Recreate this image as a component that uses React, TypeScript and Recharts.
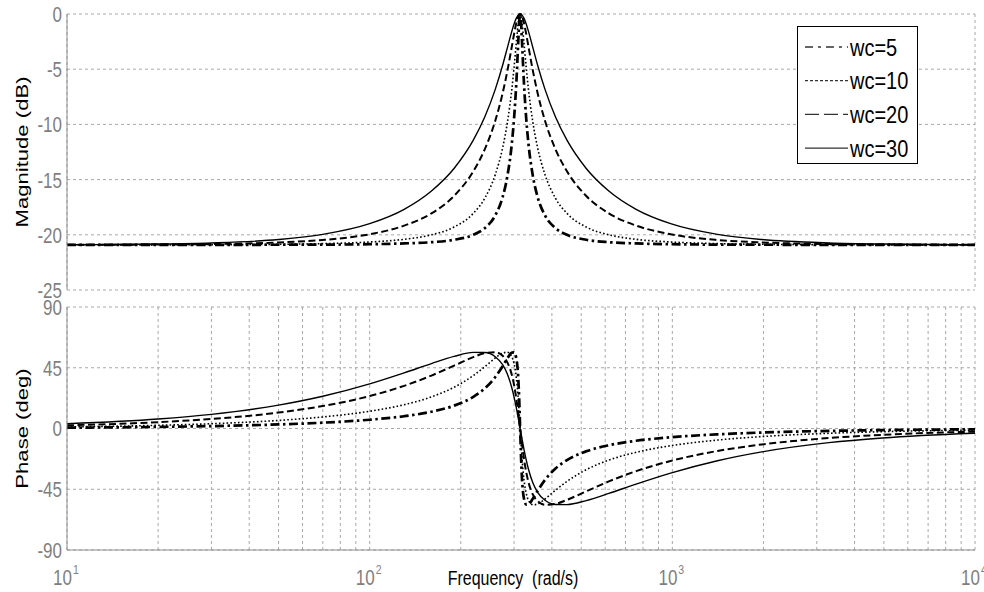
import React from 'react';
import { LineChart, Line, XAxis, YAxis, CartesianGrid, Legend } from 'recharts';

// Frequency points (rad/s)
const freqs = [10, 20, 30, 50, 70, 100, 130, 160, 190, 220, 240, 260, 275, 285, 295, 300, 305, 310, 312, 314.16,
  316.33, 318.37, 323.59, 328.99, 334.56, 346.3, 358.89, 379.6, 411.23, 448.62, 519.45, 616.85, 759.2, 986.96,
  1409.9, 1973.9, 3289.9, 4934.8, 9869.6, 10000];

// Magnitude (dB)
const mag5 = [-20.91, -20.91, -20.91, -20.9, -20.89, -20.85, -20.78, -20.67, -20.45, -20.0, -19.4, -18.24, -16.58,
  -14.71, -11.7, -9.45, -6.37, -2.28, -0.74, 0, -0.74, -2.28, -6.37, -9.45, -11.7, -14.71, -16.58, -18.24, -19.4,
  -20.0, -20.45, -20.67, -20.78, -20.85, -20.89, -20.9, -20.91, -20.91, -20.91, -20.91];
const mag10 = [-20.91, -20.91, -20.9, -20.86, -20.8, -20.65, -20.41, -20.0, -19.3, -18.06, -16.69, -14.55, -12.12,
  -9.85, -6.78, -4.84, -2.68, -0.69, -0.2, 0, -0.2, -0.69, -2.68, -4.84, -6.78, -9.85, -12.12, -14.55, -16.69,
  -18.06, -19.3, -20.0, -20.41, -20.65, -20.8, -20.86, -20.9, -20.91, -20.91, -20.91];
const mag20 = [-20.91, -20.88, -20.84, -20.69, -20.47, -19.95, -19.17, -18.06, -16.48, -14.25, -12.26, -9.67, -7.17,
  -5.17, -2.93, -1.81, -0.84, -0.18, -0.05, 0, -0.05, -0.18, -0.84, -1.81, -2.93, -5.17, -7.17, -9.67, -12.26,
  -14.25, -16.48, -18.06, -19.17, -19.95, -20.47, -20.69, -20.84, -20.88, -20.91, -20.91];
const mag30 = [-20.9, -20.84, -20.74, -20.43, -19.96, -18.99, -17.69, -16.03, -13.99, -11.43, -9.33, -6.83, -4.64,
  -3.07, -1.55, -0.9, -0.4, -0.08, -0.02, 0, -0.02, -0.08, -0.4, -0.9, -1.55, -3.07, -4.64, -6.83, -9.33, -11.43,
  -13.99, -16.03, -17.69, -18.99, -19.96, -20.43, -20.74, -20.84, -20.9, -20.9];

// Phase (deg)
const phase5 = [0.59, 1.18, 1.78, 3.01, 4.31, 6.5, 9.1, 12.42, 16.9, 23.41, 29.64, 38.11, 46.15, 51.86, 56.22, 56.35,
  52.23, 35.63, 21.21, 0, -21.21, -35.63, -52.23, -56.35, -56.22, -51.86, -46.15, -38.11, -29.64, -23.41, -16.9,
  -12.42, -9.1, -6.5, -4.31, -3.01, -1.78, -1.18, -0.59, -0.58];
const phase10 = [1.18, 2.36, 3.55, 5.99, 8.56, 12.77, 17.64, 23.43, 30.53, 39.19, 45.72, 52.22, 55.91, 56.51, 53.09,
  47.96, 38.14, 20.56, 11.12, 0, -11.12, -20.56, -38.14, -47.96, -53.09, -56.51, -55.91, -52.22, -45.72, -39.19,
  -30.53, -23.43, -17.64, -12.77, -8.56, -5.99, -3.55, -2.36, -1.18, -1.16];
const phase20 = [2.35, 4.7, 7.06, 11.82, 16.64, 24.03, 31.6, 39.21, 46.54, 52.85, 55.78, 56.45, 53.82, 49.02, 39.6,
  32.2, 22.54, 10.74, 5.63, 0, -5.63, -10.74, -22.54, -32.2, -39.6, -49.02, -53.82, -56.45, -55.78, -52.85, -46.54,
  -39.21, -31.6, -24.03, -16.64, -11.82, -7.06, -4.7, -2.35, -2.32];
const phase30 = [3.52, 7.03, 10.5, 17.33, 23.89, 33.06, 41.21, 48.1, 53.38, 56.36, 56.29, 53.19, 47.26, 40.36, 30.0,
  23.3, 15.62, 7.22, 3.76, 0, -3.76, -7.22, -15.62, -23.3, -30.0, -40.36, -47.26, -53.19, -56.29, -56.36, -53.38,
  -48.1, -41.21, -33.06, -23.89, -17.33, -10.5, -7.03, -3.52, -3.47];

const seriesNames = ['wc=5', 'wc=10', 'wc=20', 'wc=30'];
const magTicks = [-25, -20, -15, -10, -5, 0];
const phaseTicks = [-90, -45, 0, 45, 90];
const freqTicks = [10, 20, 30, 40, 50, 60, 70, 80, 90, 100, 200, 300, 400, 500, 600, 700, 800, 900,
  1000, 2000, 3000, 4000, 5000, 6000, 7000, 8000, 9000, 10000];
const decadeExp: Record<number, string> = { 10: '1', 100: '2', 1000: '3', 10000: '4' };

const magSeries = [mag5, mag10, mag20, mag30];
const phaseSeries = [phase5, phase10, phase20, phase30];
const keys = ['s0', 's1', 's2', 's3'];

const magData = freqs.map((f, i) => {
  const row: Record<string, number> = { f };
  keys.forEach((k, j) => { row[k] = magSeries[j][i]; });
  return row;
});
const phaseData = freqs.map((f, i) => {
  const row: Record<string, number> = { f };
  keys.forEach((k, j) => { row[k] = phaseSeries[j][i]; });
  return row;
});

const lineStyles = [
  { width: 2.7, dash: '9 3.5 2.5 3.5', legendDash: '8 5 3 5' },
  { width: 1.6, dash: '1.6 2.2', legendDash: '3 2' },
  { width: 2.0, dash: '7 3.5', legendDash: '14 5' },
  { width: 1.4, dash: undefined as string | undefined, legendDash: undefined as string | undefined },
];

const FONT = "'Liberation Sans', Arial, sans-serif";
const SY = 1.3;
const TICK_COLOR = '#7f7f7f';
const AXIS_COLOR = '#8f8f8f';
const GRID_COLOR = '#a8a8a8';

const YTick = (props: any) => {
  const { x, y, payload } = props;
  return (
    <g transform={`translate(${x},${y}) scale(1,${SY})`}>
      <text x={0} y={0} dy="0.36em" textAnchor="end" fill={TICK_COLOR} fontSize={17} fontFamily={FONT}>
        {payload.value}
      </text>
    </g>
  );
};

const XTick = (props: any) => {
  const { x, y, payload } = props;
  const exp = decadeExp[payload.value];
  if (!exp) return <g />;
  return (
    <g transform={`translate(${x},${y})`}>
      <g transform={`translate(0,35) scale(1,${SY})`}>
        <text x={5} y={0} textAnchor="end" fill={TICK_COLOR} fontSize={17} fontFamily={FONT}>10</text>
      </g>
      <g transform={`translate(0,24) scale(1,${SY})`}>
        <text x={6} y={0} textAnchor="start" fill={TICK_COLOR} fontSize={10.5} fontFamily={FONT}>{exp}</text>
      </g>
    </g>
  );
};

const VLabel = (text: string) => (props: any) => {
  const vb = props.viewBox || {};
  const cy = vb.y + vb.height / 2;
  return (
    <g transform={`translate(22,${cy}) scale(1,${SY}) rotate(-90)`}>
      <text x={0} y={0} dy="0.36em" textAnchor="middle" fill="#000" fontSize={17} fontFamily={FONT}>{text}</text>
    </g>
  );
};

const FreqLabel = (props: any) => {
  const vb = props.viewBox || {};
  const cx = vb.x + vb.width / 2 - 8;
  return (
    <g transform={`translate(${cx},${vb.y + 35}) scale(1,${SY})`}>
      <text x={0} y={0} textAnchor="middle" fill="#000" fontSize={16} fontFamily={FONT} style={{ whiteSpace: 'pre' }}>
        Frequency  (rad/s)
      </text>
    </g>
  );
};

const LegendBox = () => (
  <div style={{ width: 121, height: 138, background: '#fff', border: '1px solid #000', boxSizing: 'border-box' }}>
    <svg width={119} height={136} style={{ display: 'block' }}>
      {seriesNames.map((name, i) => {
        const cy = 20 + i * 33.7;
        const st = lineStyles[i];
        return (
          <g key={name}>
            <line x1={7} x2={50} y1={cy} y2={cy} stroke="#333" strokeWidth={1.3} strokeDasharray={st.legendDash} />
            <g transform={`translate(52,${cy}) scale(1,1.2)`}>
              <text x={0} y={0} dy="0.36em" fill="#000" fontSize={20} fontFamily={FONT}>{name}</text>
            </g>
          </g>
        );
      })}
    </svg>
  </div>
);

const renderLines = () =>
  keys.map((k, i) => (
    <Line
      key={k}
      dataKey={k}
      name={seriesNames[i]}
      type="monotone"
      stroke="#000"
      strokeWidth={lineStyles[i].width}
      strokeDasharray={lineStyles[i].dash}
      dot={false}
      activeDot={false}
      isAnimationActive={false}
    />
  ));

export default function App() {
  return (
    <div style={{ position: 'absolute', left: 0, top: 0, width: 984, height: 592, background: '#fff', overflow: 'hidden' }}>
      <div style={{ position: 'absolute', left: 0, top: 292 }}>
        <LineChart width={984} height={300} data={phaseData} margin={{ top: 15, right: 9, bottom: 0, left: 0 }}>
          <CartesianGrid stroke={GRID_COLOR} strokeDasharray="3 3" />
          <XAxis
            dataKey="f"
            type="number"
            scale="log"
            domain={[10, 10000]}
            ticks={freqTicks}
            interval={0}
            allowDataOverflow
            height={42}
            tickSize={0}
            tickMargin={0}
            tickLine={false}
            axisLine={{ stroke: AXIS_COLOR }}
            tick={<XTick />}
            label={{ content: FreqLabel }}
          />
          <YAxis
            type="number"
            domain={[-90, 90]}
            ticks={phaseTicks}
            interval={0}
            width={67}
            tickSize={0}
            tickMargin={5}
            tickLine={false}
            axisLine={{ stroke: AXIS_COLOR }}
            tick={<YTick />}
            label={{ content: VLabel('Phase (deg)') }}
          />
          {renderLines()}
        </LineChart>
      </div>
      <div style={{ position: 'absolute', left: 0, top: 0 }}>
        <LineChart width={984} height={310} data={magData} margin={{ top: 14, right: 9, bottom: 20, left: 0 }}>
          <CartesianGrid stroke={GRID_COLOR} strokeDasharray="3 3" />
          <XAxis
            dataKey="f"
            type="number"
            scale="log"
            domain={[10, 10000]}
            ticks={freqTicks}
            interval={0}
            allowDataOverflow
            height={0}
            tick={false}
            tickLine={false}
            axisLine={{ stroke: AXIS_COLOR }}
          />
          <YAxis
            type="number"
            domain={[-25, 0]}
            ticks={magTicks}
            interval={0}
            width={67}
            tickSize={0}
            tickMargin={5}
            tickLine={false}
            axisLine={{ stroke: AXIS_COLOR }}
            tick={<YTick />}
            label={{ content: VLabel('Magnitude (dB)') }}
          />
          <Legend
            layout="vertical"
            align="center"
            verticalAlign="middle"
            wrapperStyle={{ position: 'absolute', left: 797, top: 26, width: 121, height: 138 }}
            content={() => <LegendBox />}
          />
          {renderLines()}
        </LineChart>
      </div>
    </div>
  );
}
